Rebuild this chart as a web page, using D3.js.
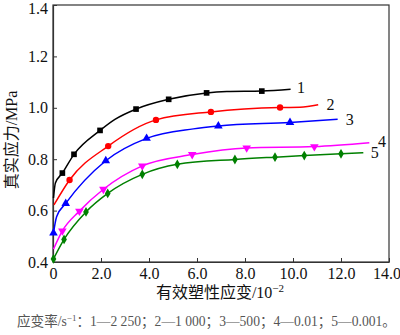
<!DOCTYPE html>
<html><head><meta charset="utf-8">
<script src="https://cdn.jsdelivr.net/npm/d3@7"></script>
<style>html,body{margin:0;padding:0;background:#fff;}svg{display:block;}</style>
</head><body>
<svg id="c" width="400" height="335"></svg>
<script>
// ---- data ----
const xTicks = [0, 2, 4, 6, 8, 10, 12, 14];
const xTickLabels = ["0", "2.0", "4.0", "6.0", "8.0", "10.0", "12.0", "14.0"];
const yTicks = [0.4, 0.6, 0.8, 1.0, 1.2, 1.4];
const yTickLabels = ["0.4", "0.6", "0.8", "1.0", "1.2", "1.4"];

const seriesNames = ["1", "2", "3", "4", "5"];
const seriesColors = ["#000000", "#ff0000", "#0000ff", "#ff00ff", "#008000"];
const seriesSymbols = ["square", "circle", "triangle", "triangleDown", "diamond"];

const s1x = [0.02, 0.1, 0.39, 0.875, 1.96, 2.58, 3.46, 4.82, 6.4, 7.24, 8.7, 9.9];
const s1y = [0.649, 0.707, 0.746, 0.819, 0.912, 0.955, 0.995, 1.033, 1.058, 1.063, 1.065, 1.072];
const s1m = [2, 3, 4, 6, 7, 8, 10];

const s2x = [0.04, 0.69, 2.3, 4.29, 6.58, 9.46, 10.29, 11.05];
const s2y = [0.622, 0.719, 0.851, 0.953, 0.984, 1.001, 1.002, 1.012];
const s2m = [1, 2, 3, 4, 5];

const s3x = [0.02, 0.15, 0.53, 2.2, 3.9, 5.85, 6.89, 9.875, 11.86];
const s3y = [0.513, 0.576, 0.628, 0.794, 0.881, 0.918, 0.929, 0.943, 0.955];
const s3m = [0, 2, 3, 4, 6, 7];

const s4x = [0.02, 0.39, 1.1, 2.1, 3.72, 5.8, 8.07, 10.89, 13.18];
const s4y = [0.45, 0.521, 0.598, 0.683, 0.774, 0.818, 0.844, 0.849, 0.864];
const s4m = [1, 2, 3, 4, 5, 6, 7];

const s5x = [0.02, 0.46, 1.375, 2.28, 3.72, 5.18, 7.58, 9.25, 10.47, 12.0, 12.93];
const s5y = [0.412, 0.488, 0.595, 0.667, 0.741, 0.78, 0.799, 0.808, 0.814, 0.821, 0.825];
const s5m = [0, 1, 2, 3, 4, 5, 6, 7, 8, 9];

const labelX = [10.17, 11.4, 12.2, 13.54, 13.24];
const labelY = [1.073, 1.007, 0.949, 0.863, 0.82];

const xTitle = "有效塑性应变/10";
const xTitleSup = "−2";
const yTitle = "真实应力/MPa";
const captionParts = ["应变率/s", "−1", "：1—2 250；2—1 000；3—500；4—0.01；5—0.001。"];

// ---- build ----
const allX = [s1x, s2x, s3x, s4x, s5x];
const allY = [s1y, s2y, s3y, s4y, s5y];
const allM = [s1m, s2m, s3m, s4m, s5m];

const svg = d3.select("#c");
const x = d3.scaleLinear().domain([0, 14]).range([53, 389]);
const y = d3.scaleLinear().domain([0.4, 1.4]).range([262, 5]);
const serif = "'Liberation Serif','Times New Roman','Noto Sans CJK SC',serif";
const cjk = "'Liberation Serif','Noto Sans CJK SC',serif";

// frame
svg.append("rect").attr("x", x(0)).attr("y", y(1.4))
  .attr("width", x(14) - x(0)).attr("height", y(0.4) - y(1.4))
  .attr("fill", "none").attr("stroke", "#333").attr("stroke-width", 1.2);

const gx = svg.append("g").attr("transform", `translate(0,${y(0.4)})`)
  .call(d3.axisBottom(x).tickValues(xTicks).tickFormat((d, i) => xTickLabels[i])
    .tickSizeInner(-4).tickSizeOuter(0).tickPadding(6));
const gy = svg.append("g").attr("transform", `translate(${x(0)},0)`)
  .call(d3.axisLeft(y).tickValues(yTicks).tickFormat((d, i) => yTickLabels[i])
    .tickSizeInner(-4).tickSizeOuter(0).tickPadding(5));
[gx, gy].forEach(g => {
  g.select(".domain").attr("stroke", "#333").attr("stroke-width", 1.2);
  g.selectAll(".tick line").attr("stroke", "#333");
  g.selectAll(".tick text").attr("font-family", serif).attr("font-size", 16).attr("fill", "#111");
});
// keep edge labels inside the window
gx.selectAll(".tick text").filter(d => d === 14).attr("dx", "-2.5");
gy.selectAll(".tick text").filter(d => d === 1.4).attr("dy", "0.5em");

const line = d3.line().x(d => x(d[0])).y(d => y(d[1])).curve(d3.curveMonotoneX);
const symMap = {
  square: d3.symbolSquare, circle: d3.symbolCircle, triangle: d3.symbolTriangle,
  triangleDown: d3.symbolTriangle, diamond: d3.symbolDiamond
};
const symSize = { square: 32, circle: 32, triangle: 32, triangleDown: 32, diamond: 28 };

for (let k = 0; k < 5; k++) {
  const pts = allX[k].map((v, i) => [v, allY[k][i]]);
  svg.append("path").datum(pts).attr("d", line)
    .attr("fill", "none").attr("stroke", seriesColors[k]).attr("stroke-width", 1.5);
  const sym = d3.symbol().type(symMap[seriesSymbols[k]]).size(symSize[seriesSymbols[k]]);
  svg.append("g").selectAll("path").data(allM[k].map(i => pts[i])).join("path")
    .attr("d", sym)
    .attr("transform", d => `translate(${x(d[0])},${y(d[1])})` + (seriesSymbols[k] === "triangleDown" ? " rotate(180)" : ""))
    .attr("fill", seriesColors[k]);
  svg.append("text").attr("x", x(labelX[k])).attr("y", y(labelY[k]))
    .attr("dominant-baseline", "middle")
    .attr("font-family", serif).attr("font-size", 16).attr("fill", "#111")
    .text(seriesNames[k]);
}

// axis titles
const xt = svg.append("text").attr("x", 220).attr("y", 298).attr("text-anchor", "middle")
  .attr("font-family", cjk).attr("font-size", 16).attr("fill", "#111");
xt.append("tspan").text(xTitle);
xt.append("tspan").attr("dy", -6).attr("font-size", 11).text(xTitleSup);

svg.append("text").attr("transform", "translate(17,140) rotate(-90)")
  .attr("text-anchor", "middle").attr("font-family", cjk).attr("font-size", 16).attr("fill", "#111")
  .text(yTitle);

const cap = svg.append("text").attr("x", 17).attr("y", 326)
  .attr("font-family", cjk).attr("font-size", 13.6).attr("fill", "#555");
cap.append("tspan").text(captionParts[0]);
cap.append("tspan").attr("dy", -5).attr("font-size", 9).text(captionParts[1]);
cap.append("tspan").attr("dy", 5).text(captionParts[2]);
</script>
</body></html>
